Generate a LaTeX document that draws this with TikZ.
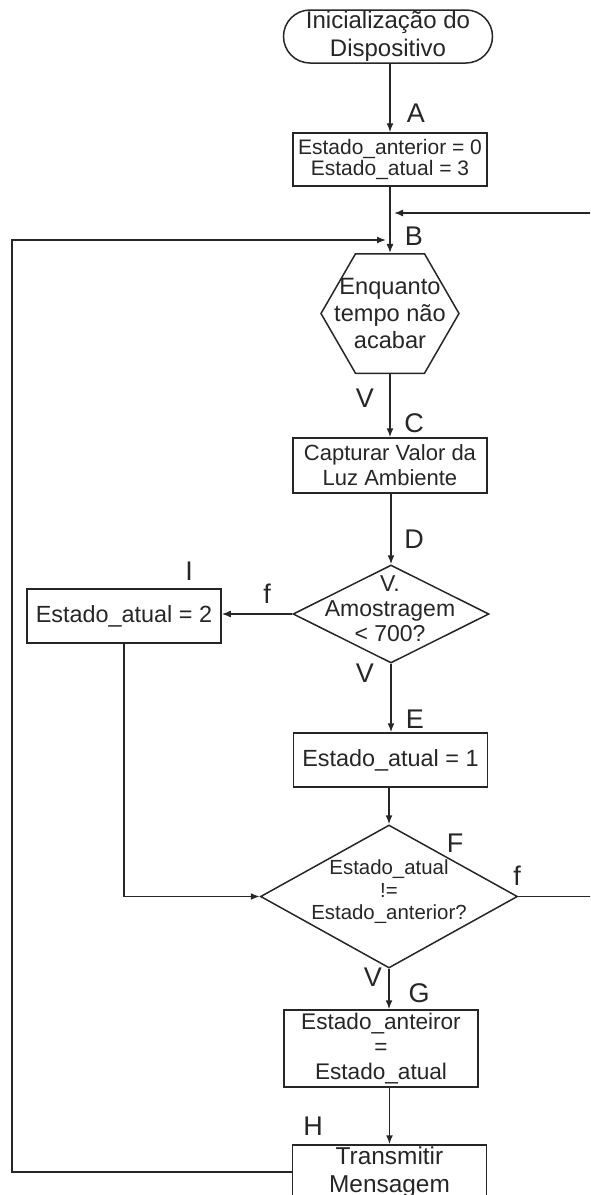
\documentclass[tikz,border=0pt]{standalone}
\usepackage{fontspec}
\setmainfont{Liberation Sans}
\usetikzlibrary{shapes,arrows.meta,positioning}

\begin{document}
\begin{tikzpicture}[x=0.5pt,y=-0.5pt, line width=0.75pt, color=black!85,
  inicio/.style={draw, rounded rectangle, minimum width=104.5pt, minimum height=26.5pt, inner sep=0pt},
  bloco/.style={draw, rectangle, minimum width=97pt, inner sep=0pt, align=center},
  laco/.style={draw, regular polygon, regular polygon sides=6, minimum size=69pt, inner sep=0pt},
  decisao/.style={draw, diamond, inner sep=0pt},
  txt/.style={align=center, inner sep=0pt},
  rot/.style={font=\fontsize{13.5}{14}\selectfont, inner sep=0pt},
  seta/.style={-{Latex[length=4.5pt,width=3.5pt]}}]
\useasboundingbox (0,0) rectangle (590,1195);
\clip (0,0) rectangle (590,1195);

% blocos do fluxo
\node[inicio] (ini) at (388,36.5) {};
\node[txt, font=\fontsize{12}{14}\selectfont] (iniT) at (ini) {Inicialização do\\Dispositivo};
\node[bloco, minimum height=26.5pt, font=\fontsize{10.5}{10.8}\selectfont] (zera) at (390,159.5) {Estado\_anterior = 0\\Estado\_atual = 3};
\node[laco] (tempo) at (390,313.5) {};
\node[txt, font=\fontsize{11.8}{13.3}\selectfont] (tempoT) at (tempo) {Enquanto\\tempo não\\acabar};
\node[bloco, minimum height=27.5pt, font=\fontsize{11}{12.5}\selectfont] (luz) at (390,465.5) {Capturar Valor da\\Luz Ambiente};
\node[decisao, minimum width=98pt, minimum height=49pt] (amostra) at (391,614) {};
\node[txt, font=\fontsize{11.5}{12.5}\selectfont] (amostraT) at (390,609) {V.\\Amostragem\\< 700?};
\node[bloco, minimum height=27pt, font=\fontsize{11.7}{14}\selectfont] (atual2) at (124,616) {Estado\_atual = 2};
\node[bloco, minimum height=27pt, font=\fontsize{11.7}{14}\selectfont] (atual1) at (390.5,760) {Estado\_atual = 1};
\node[decisao, minimum width=128.5pt, minimum height=71.5pt] (compara) at (389,896.5) {};
\node[txt, font=\fontsize{10.2}{11.3}\selectfont] (comparaT) at (389,892) {Estado\_atual\\!=\\Estado\_anterior?};
\node[bloco, minimum height=38.5pt, font=\fontsize{11.3}{12.5}\selectfont] (guarda) at (381,1048.5) {Estado\_anteiror\\=\\Estado\_atual};
\node[bloco, minimum height=27pt, font=\fontsize{12.2}{14}\selectfont] (envia) at (389.5,1172) {Transmitir\\Mensagem};

% pontos de retorno
\coordinate (retA) at (390,213);
\coordinate (retB) at (390,240);
\coordinate (dir) at (600,213);
\coordinate (esq) at (12,240);

% ligacoes
\draw[seta] (zera.north |- ini.south) -- (zera);
\draw[seta] (zera) -- (tempo);
\draw[seta] (tempo) -- (luz);
\draw[seta] (luz.south -| amostra.north) -- (amostra);
\draw[seta] (amostra.west) -- (amostra.west -| atual2.east);
\draw[seta] (amostra.south) -- (amostra.south |- atual1.north);
\draw[seta] (atual1.south -| compara.north) -- (compara);
\draw[seta] (atual2) |- (compara.west);
\draw[seta] (compara) -- (compara |- guarda.north);
\draw[seta] (guarda.south -| envia.north) -- (envia);
\draw[seta, shorten >=2pt] (compara.east) -| (dir) -- (retA);
\draw[seta, shorten >=2pt] (envia.west) -| (esq) -- (retB);

% rotulos
\node[rot] (rA) at (416,113) {A};
\node[rot] (rB) at (414,236) {B};
\node[rot] (rV1) at (365,398) {V};
\node[rot] (rC) at (414,423) {C};
\node[rot] (rD) at (414,539) {D};
\node[rot] (rI) at (189,571) {I};
\node[rot] (rf1) at (267,594) {f};
\node[rot] (rV2) at (365,673) {V};
\node[rot] (rE) at (415,719) {E};
\node[rot] (rF) at (455,843) {F};
\node[rot] (rf2) at (517,876) {f};
\node[rot] (rV3) at (373,977) {V};
\node[rot] (rG) at (419,993) {G};
\node[rot] (rH) at (313,1126) {H};
\end{tikzpicture}
\end{document}
